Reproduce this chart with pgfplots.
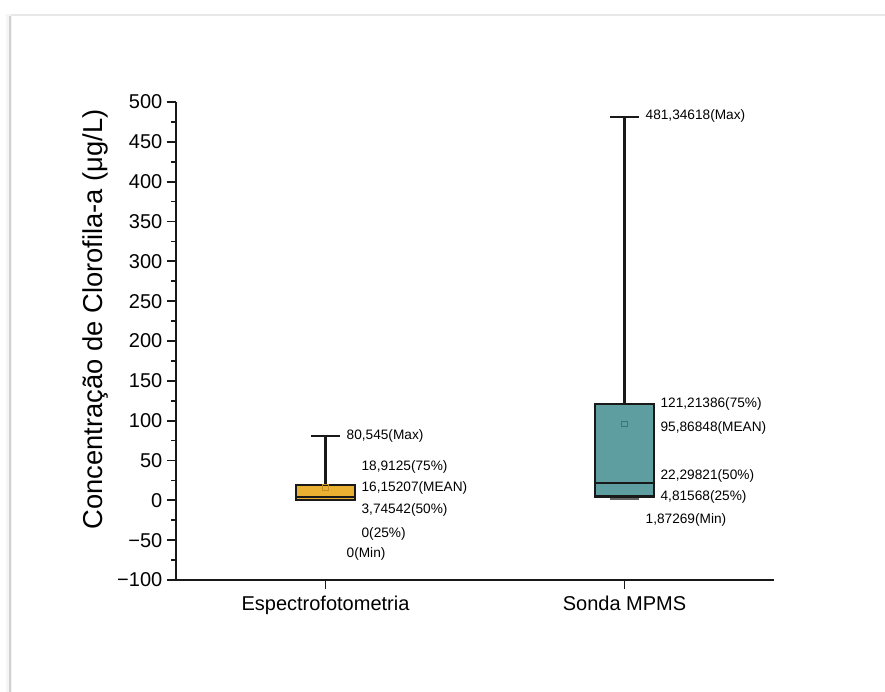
\documentclass[border=0pt]{standalone}
\usepackage{fontspec}
\setmainfont{Liberation Sans}
\usepackage{pgfplots}
\pgfplotsset{compat=1.18}

\definecolor{espfill}{HTML}{E9B032}
\definecolor{espmean}{HTML}{C48F22}
\definecolor{sonfill}{HTML}{5F9EA0}
\definecolor{sonmean}{HTML}{3D7577}
\colorlet{ink}{black!90}

\begin{document}
\begin{tikzpicture}
% page size
\path[use as bounding box] (0,0) rectangle (663.75pt,519pt);
% card edge
\fill[black!4] (4.5pt,0) rectangle (9pt,508.5pt);
\draw[black!18, line width=1.6pt] (7.5pt,0) -- (7.5pt,507pt);
\draw[black!9, line width=1.4pt] (8pt,507.75pt) -- (663.75pt,507.75pt);

\begin{axis}[
  at={(132pt,84pt)}, anchor=south west,
  scale only axis, width=448.5pt, height=358.5pt,
  xmin=0.5, xmax=2.5, ymin=-100, ymax=500,
  axis x line*=bottom, axis y line*=left,
  axis line style={line width=1.5pt, ink},
  xtick={1,2}, xticklabels={Espectrofotometria, Sonda MPMS},
  ytick={-100,-50,0,50,100,150,200,250,300,350,400,450,500},
  yticklabels={−100,−50,0,50,100,150,200,250,300,350,400,450,500},
  minor y tick num=1,
  tick align=outside,
  major tick length=6.75pt, minor tick length=3.5pt,
  every tick/.style={ink, line width=1.3pt},
  ticklabel style={font=\fontsize{15}{18}\selectfont},
  xticklabel style={yshift=-2pt},
  ylabel={Concentração de Clorofila-a (μg/L)},
  ylabel style={font=\fontsize{20.5}{24}\selectfont, at={(axis description cs:-0.134,0.545)}, anchor=center},
  clip=false,
  whisk/.style={ink, line width=1.6pt, mark=none},
]
% ---- Espectrofotometria: min 0, Q1 0, median 3.74542, Q3 18.9125, max 80.545, mean 16.15207
\addplot[whisk] coordinates {(1,18.9125) (1,80.545)};
\addplot[whisk] coordinates {(0.95,80.545) (1.05,80.545)};
\addplot[draw=ink, fill=espfill, line width=1.6pt] coordinates
  {(0.9,0) (1.1,0) (1.1,18.9125) (0.9,18.9125)} -- cycle;
\addplot[whisk] coordinates {(0.9,3.74542) (1.1,3.74542)};
\addplot[whisk] coordinates {(0.95,0) (1.05,0)};
\addplot[only marks, mark=square, mark size=2.2pt, mark options={draw=espmean, line width=0.7pt}]
  coordinates {(1,16.15207)};

% ---- Sonda MPMS: min 1.87269, Q1 4.81568, median 22.29821, Q3 121.21386, max 481.34618, mean 95.86848
\addplot[whisk] coordinates {(2,121.21386) (2,481.34618)};
\addplot[whisk] coordinates {(1.95,481.34618) (2.05,481.34618)};
\addplot[whisk] coordinates {(2,4.81568) (2,1.87269)};
\addplot[whisk, black!60] coordinates {(1.95,1.87269) (2.05,1.87269)};
\addplot[draw=ink, fill=sonfill, line width=1.6pt] coordinates
  {(1.9,4.81568) (2.1,4.81568) (2.1,121.21386) (1.9,121.21386)} -- cycle;
\addplot[whisk] coordinates {(1.9,22.29821) (2.1,22.29821)};
\addplot[only marks, mark=square, mark size=2.2pt, mark options={draw=sonmean, line width=0.7pt}]
  coordinates {(2,95.86848)};

\begin{scope}[every node/.style={anchor=west, inner sep=0pt, font=\fontsize{10.25}{12}\selectfont}]
\node at (axis cs:1.07,80.545) {80,545(Max)};
\node at (axis cs:1.12,42.1) {18,9125(75\%)};
\node at (axis cs:1.12,15.7) {16,15207(MEAN)};
\node at (axis cs:1.12,-12) {3,74542(50\%)};
\node at (axis cs:1.12,-42.1) {0(25\%)};
\node at (axis cs:1.07,-67.3) {0(Min)};
\node at (axis cs:2.07,482.4) {481,34618(Max)};
\node at (axis cs:2.12,121.4) {121,21386(75\%)};
\node at (axis cs:2.12,91.2) {95,86848(MEAN)};
\node at (axis cs:2.12,30.8) {22,29821(50\%)};
\node at (axis cs:2.12,4.4) {4,81568(25\%)};
\node at (axis cs:2.07,-24.5) {1,87269(Min)};
\end{scope}
\end{axis}
\end{tikzpicture}
\end{document}
